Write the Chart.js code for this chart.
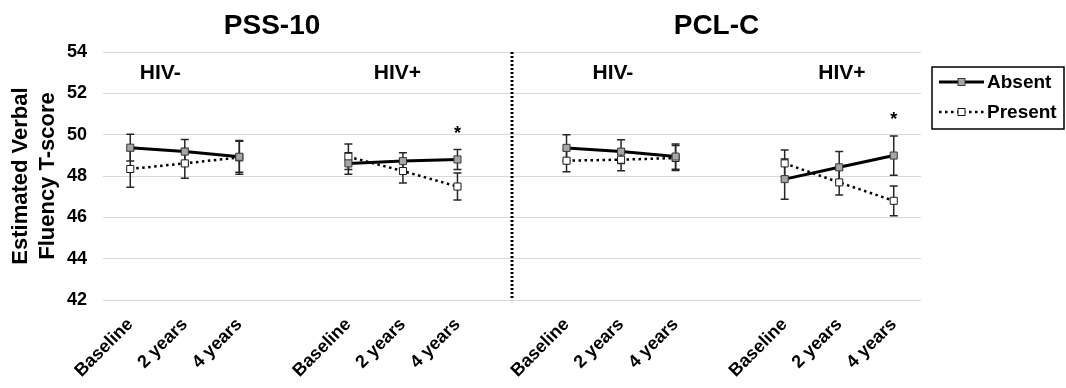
<!DOCTYPE html>
<html>
<head>
<meta charset="utf-8">
<script src="https://cdn.jsdelivr.net/npm/chart.js@4.4.1/dist/chart.umd.min.js"></script>
<style>
  body { margin: 0; background: #ffffff; }
  #wrap { width: 1066px; height: 388px; position: relative; }
</style>
</head>
<body>
<div id="wrap"><canvas id="verbal"></canvas></div>
<script>
// Chart values
const timepoints = ["Baseline", "2 years", "4 years"];
const sections = ["PSS-10", "PCL-C"];
const groups = ["HIV-", "HIV+", "HIV-", "HIV+"];
const seriesNames = ["Absent", "Present"];

// one value per (group, timepoint): PSS-10 HIV-, PSS-10 HIV+, PCL-C HIV-, PCL-C HIV+
const absentMean  = [49.37, 49.18, 48.93,  48.61, 48.72, 48.80,  49.36, 49.18, 48.94,  47.85, 48.42, 48.99];
const absentErr   = [0.65, 0.59, 0.75,  0.52, 0.41, 0.48,  0.63, 0.58, 0.61,  0.97, 0.76, 0.95];
const presentMean = [48.34, 48.61, 48.90,  48.93, 48.24, 47.49,  48.74, 48.79, 48.87,  48.61, 47.69, 46.80];
const presentErr  = [0.89, 0.72, 0.82,  0.62, 0.58, 0.65,  0.53, 0.53, 0.60,  0.65, 0.61, 0.72];
const significant = [false, false, false,  false, false, true,  false, false, false,  false, false, true];

const yTicks = [42, 44, 46, 48, 50, 52, 54];

const FONT = "'Liberation Sans', Arial, sans-serif";

// spread the per-group values over the x slots, one blank slot between groups
function spread(values) {
  var out = [];
  groups.forEach((g, gi) => {
    if (gi > 0) out.push(null);
    timepoints.forEach((t, ti) => out.push(values[gi * timepoints.length + ti]));
  });
  return out;
}

var labels = spread(groups.flatMap(() => timepoints)).map((l) => l === null ? "" : l);

var errorBars = {
  id: "errorBars",
  beforeDatasetsDraw(chart) {
    const ctx = chart.ctx;
    const y = chart.scales.y;
    ctx.save();
    ctx.strokeStyle = "#262626";
    ctx.lineWidth = 1.5;
    chart.data.datasets.forEach((ds, di) => {
      const meta = chart.getDatasetMeta(di);
      meta.data.forEach((pt, i) => {
        if (ds.data[i] === null) return;
        const top = y.getPixelForValue(ds.data[i] + ds.err[i]);
        const bot = y.getPixelForValue(ds.data[i] - ds.err[i]);
        ctx.beginPath();
        ctx.moveTo(pt.x, top); ctx.lineTo(pt.x, bot);
        ctx.moveTo(pt.x - 4, top); ctx.lineTo(pt.x + 4, top);
        ctx.moveTo(pt.x - 4, bot); ctx.lineTo(pt.x + 4, bot);
        ctx.stroke();
      });
    });
    ctx.restore();
  }
};

// fractional slot -> pixel on the category axis
function slotX(scale, f) {
  const i = Math.floor(f);
  const a = scale.getPixelForValue(i);
  const b = scale.getPixelForValue(i + 1);
  return a + (b - a) * (f - i);
}

var decorations = {
  id: "decorations",
  afterDraw(chart) {
    const ctx = chart.ctx;
    const x = chart.scales.x;
    const y = chart.scales.y;
    const area = chart.chartArea;
    ctx.save();
    ctx.fillStyle = "#000";
    ctx.textAlign = "center";
    ctx.textBaseline = "middle";

    // section titles
    ctx.font = "bold 28px " + FONT;
    [2.6, 10.75].forEach((f, i) => ctx.fillText(sections[i], slotX(x, f), 26));

    // group labels
    ctx.font = "bold 21px " + FONT;
    [0.55, 4.9, 8.85, 13.05].forEach((f, i) => ctx.fillText(groups[i], slotX(x, f), 73));

    // dotted divider between PSS-10 and PCL-C
    ctx.strokeStyle = "#000";
    ctx.lineWidth = 3;
    ctx.setLineDash([2, 2]);
    ctx.beginPath();
    ctx.moveTo(x.getPixelForValue(7), area.top);
    ctx.lineTo(x.getPixelForValue(7), area.bottom);
    ctx.stroke();
    ctx.setLineDash([]);

    // significance stars
    const sig = spread(significant);
    const hiA = spread(absentMean.map((m, i) => m + absentErr[i]));
    const hiP = spread(presentMean.map((m, i) => m + presentErr[i]));
    ctx.font = "bold 18px " + FONT;
    ctx.textBaseline = "alphabetic";
    sig.forEach((s, i) => {
      if (!s) return;
      const top = y.getPixelForValue(Math.max(hiA[i], hiP[i]));
      ctx.fillText("*", x.getPixelForValue(i), top - 11);
    });

    // legend box
    const lx = area.right + 11, ly = area.top + 15;
    ctx.lineWidth = 1.5;
    ctx.strokeStyle = "#000";
    ctx.strokeRect(lx, ly, 132, 62);
    chart.data.datasets.forEach((ds, di) => {
      const ry = ly + 15 + di * 30;
      ctx.lineWidth = ds.borderWidth;
      ctx.setLineDash(ds.borderDash || []);
      ctx.beginPath();
      ctx.moveTo(lx + 7, ry); ctx.lineTo(lx + 52, ry);
      ctx.stroke();
      ctx.setLineDash([]);
      ctx.lineWidth = 1;
      ctx.fillStyle = ds.pointBackgroundColor;
      ctx.fillRect(lx + 26, ry - 3.5, 7, 7);
      ctx.strokeStyle = ds.pointBorderColor;
      ctx.strokeRect(lx + 26, ry - 3.5, 7, 7);
      ctx.strokeStyle = "#000";
      ctx.fillStyle = "#000";
      ctx.font = "bold 19px " + FONT;
      ctx.textAlign = "left";
      ctx.textBaseline = "middle";
      ctx.fillText(ds.label, lx + 55, ry + 1);
    });
    ctx.restore();
  }
};

var chartData = {
  labels: labels,
  datasets: [
    {
      label: seriesNames[0],
      data: spread(absentMean),
      err: spread(absentErr),
      borderColor: "#000",
      borderWidth: 3,
      pointStyle: "rect",
      pointRadius: 5,
      pointBackgroundColor: "#a6a6a6",
      pointBorderColor: "#3a3a3a",
      pointBorderWidth: 1
    },
    {
      label: seriesNames[1],
      data: spread(presentMean),
      err: spread(presentErr),
      borderColor: "#000",
      borderWidth: 2.5,
      borderDash: [2.5, 3.5],
      pointStyle: "rect",
      pointRadius: 5,
      pointBackgroundColor: "#ffffff",
      pointBorderColor: "#1a1a1a",
      pointBorderWidth: 1
    }
  ]
};

var chartOptions = {
  responsive: true,
  maintainAspectRatio: false,
  animation: false,
  spanGaps: false,
  layout: { padding: { left: 7, right: 145, top: 52, bottom: 0 } },
  plugins: {
    legend: { display: false },
    tooltip: { enabled: false }
  },
  scales: {
    x: {
      offset: true,
      grid: { display: false },
      border: { display: false },
      afterFit: (axis) => { axis.height = 88; },
      ticks: {
        autoSkip: false,
        maxRotation: 45,
        minRotation: 45,
        padding: 6,
        color: "#000",
        font: { family: FONT, size: 18, weight: "bold" }
      }
    },
    y: {
      min: 42,
      max: 54,
      afterBuildTicks: (axis) => { axis.ticks = yTicks.map((v) => ({ value: v })); },
      afterFit: (axis) => { axis.width = 96; },
      grid: { color: "#d9d9d9", lineWidth: 1, drawTicks: false },
      border: { display: false },
      ticks: {
        padding: 16,
        color: "#000",
        font: { family: FONT, size: 18, weight: "bold" }
      },
      title: {
        display: true,
        text: ["Estimated Verbal", "Fluency T-score"],
        color: "#000",
        padding: { top: 0, bottom: 0 },
        font: { family: FONT, size: 22, weight: "bold", lineHeight: 1.25 }
      }
    }
  }
};

new Chart(document.getElementById("verbal"), {
  type: "line",
  data: chartData,
  options: chartOptions,
  plugins: [errorBars, decorations]
});
</script>
</body>
</html>
